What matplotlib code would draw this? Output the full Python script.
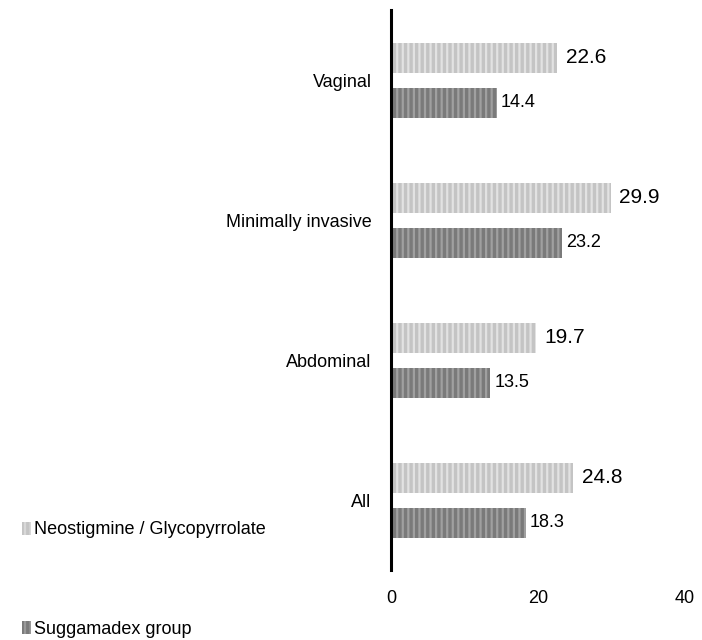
import matplotlib
matplotlib.use("Agg")
from matplotlib import pyplot as plt
from matplotlib.patches import Patch

plt.rcParams['font.family'] = ['Liberation Sans', 'DejaVu Sans']

# data (bottom to top)
categories = ["All", "Abdominal", "Minimally invasive", "Vaginal"]
neo_values = [24.8, 19.7, 29.9, 22.6]
sug_values = [18.3, 13.5, 23.2, 14.4]
neo_name = "Neostigmine / Glycopyrrolate"
sug_name = "Suggamadex group"

fig = plt.figure(figsize=(7.02, 6.40), dpi=100)
ax = fig.add_axes([0.557, 0.109, 0.419, 0.875])

pos = list(range(len(categories)))
h = 0.214
off = 0.16

neo_col = '#c4c4c4'
sug_col = '#7a7a7a'

plt.rcParams['hatch.linewidth'] = 1.6
neo_bars = ax.barh([p + off for p in pos], neo_values, height=h,
                   color=neo_col, edgecolor='#e2e2e2', linewidth=0, hatch='|||')
sug_bars = ax.barh([p - off for p in pos], sug_values, height=h,
                   color=sug_col, edgecolor='#a0a0a0', linewidth=0, hatch='|||')

ax.bar_label(neo_bars, labels=[f"{v:.1f}" for v in neo_values], padding=6, fontsize=15)
ax.bar_label(sug_bars, labels=[f"{v:.1f}" for v in sug_values], padding=3, fontsize=13)

ax.set_xlim(0, 40)
ax.set_ylim(-0.5, 3.5)
ax.set_xticks([0, 20, 40])
ax.set_yticks(pos)
ax.set_yticklabels(categories)
ax.tick_params(axis='both', length=0, labelsize=13)
ax.tick_params(axis='x', pad=14)
ax.tick_params(axis='y', pad=14)

for s in ['top', 'right', 'bottom']:
    ax.spines[s].set_visible(False)
ax.spines['left'].set_linewidth(2.2)
ax.spines['left'].set_color('black')

h1 = Patch(facecolor=neo_col, edgecolor='#d8d8d8', linewidth=0, hatch='|||')
h2 = Patch(facecolor=sug_col, edgecolor='#999999', linewidth=0, hatch='|||')
fig.legend([h1], [neo_name], loc='center left', bbox_to_anchor=(0.031, 1 - 530 / 640),
           frameon=False, fontsize=13, handlelength=0.5, handleheight=0.7,
           handletextpad=0.2, borderpad=0, borderaxespad=0)
fig.legend([h2], [sug_name], loc='center left', bbox_to_anchor=(0.031, 1 - 629 / 640),
           frameon=False, fontsize=13, handlelength=0.5, handleheight=0.7,
           handletextpad=0.2, borderpad=0, borderaxespad=0)

fig.savefig("out.png", dpi=100)
